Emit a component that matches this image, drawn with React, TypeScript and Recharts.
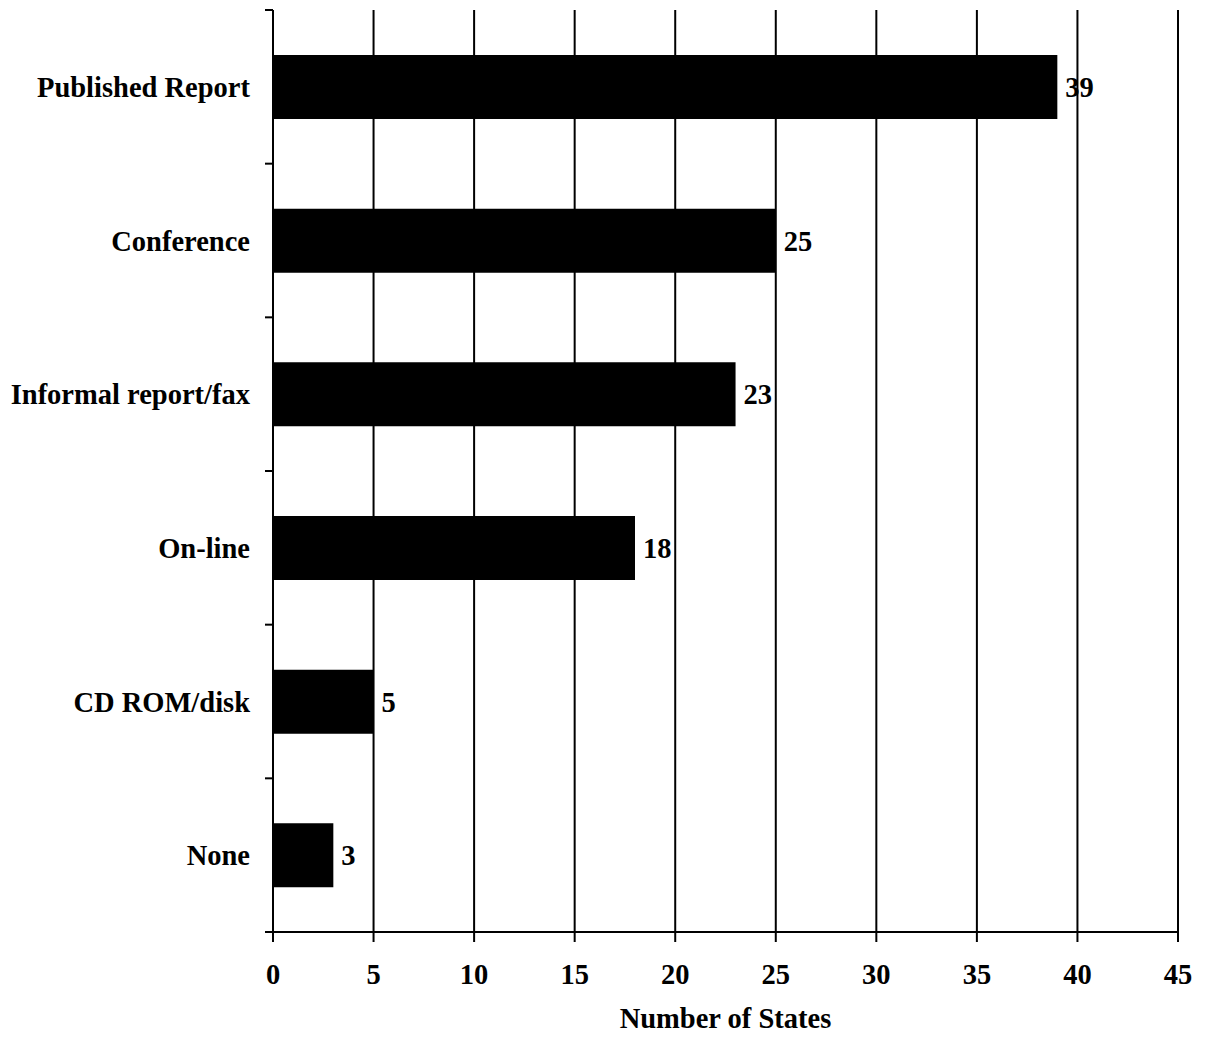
import React from 'react'
import { BarChart, Bar, XAxis, YAxis, CartesianGrid, LabelList, Label } from 'recharts'

const categories = ['Published Report', 'Conference', 'Informal report/fax', 'On-line', 'CD ROM/disk', 'None']
const states = [39, 25, 23, 18, 5, 3]
const xTicks = [0, 5, 10, 15, 20, 25, 30, 35, 40, 45]

const data = categories.map((name, i) => ({ name, states: states[i] }))

const FONT = '"Liberation Serif", "Times New Roman", serif'
const FONT_SIZE = 28.5
const TICK_SIZE = 8
const TICK_MARGIN = 15

// category labels + boundary tick marks (ticks sit between bars, not at centres)
const CategoryTick = (props: any) => {
  const { x, y, payload, index, visibleTicksCount, height } = props
  const band = height / visibleTicksCount
  const axisX = x + TICK_SIZE + TICK_MARGIN
  return (
    <g>
      <line x1={axisX - TICK_SIZE} x2={axisX} y1={y - band / 2} y2={y - band / 2} stroke="#000" strokeWidth={2} />
      {index === visibleTicksCount - 1 && (
        <line x1={axisX - TICK_SIZE} x2={axisX} y1={y + band / 2} y2={y + band / 2} stroke="#000" strokeWidth={2} />
      )}
      <text x={x} y={y} dy="0.355em" textAnchor="end" fontFamily={FONT} fontWeight="bold" fontSize={FONT_SIZE} fill="#000">
        {payload.value}
      </text>
    </g>
  )
}

export default function App() {
  return (
    <div style={{ position: 'absolute', left: 0, top: 0, background: '#fff' }}>
      <BarChart
        width={1206}
        height={1042}
        data={data}
        layout="vertical"
        margin={{ top: 10, right: 28, left: 10, bottom: 0 }}
      >
        <CartesianGrid horizontal={false} stroke="#000" strokeWidth={2} />
        <XAxis
          type="number"
          domain={[0, 45]}
          ticks={xTicks}
          interval={0}
          height={110}
          axisLine={{ stroke: '#000', strokeWidth: 2 }}
          tickLine={{ stroke: '#000', strokeWidth: 2 }}
          tickSize={10}
          tickMargin={22}
          tick={{ fill: '#000', fontFamily: FONT, fontWeight: 'bold', fontSize: FONT_SIZE }}
        >
          <Label
            value="Number of States"
            position="insideBottom"
            offset={14}
            style={{ fill: '#000', fontFamily: FONT, fontWeight: 'bold', fontSize: FONT_SIZE }}
          />
        </XAxis>
        <YAxis
          type="category"
          dataKey="name"
          width={263}
          interval={0}
          axisLine={{ stroke: '#000', strokeWidth: 2 }}
          tickLine={false}
          tickSize={TICK_SIZE}
          tickMargin={TICK_MARGIN}
          tick={<CategoryTick />}
        />
        <Bar dataKey="states" fill="#000" barSize={64} isAnimationActive={false}>
          <LabelList
            dataKey="states"
            position="right"
            offset={8}
            style={{ fill: '#000', fontFamily: FONT, fontWeight: 'bold', fontSize: FONT_SIZE }}
          />
        </Bar>
      </BarChart>
    </div>
  )
}
